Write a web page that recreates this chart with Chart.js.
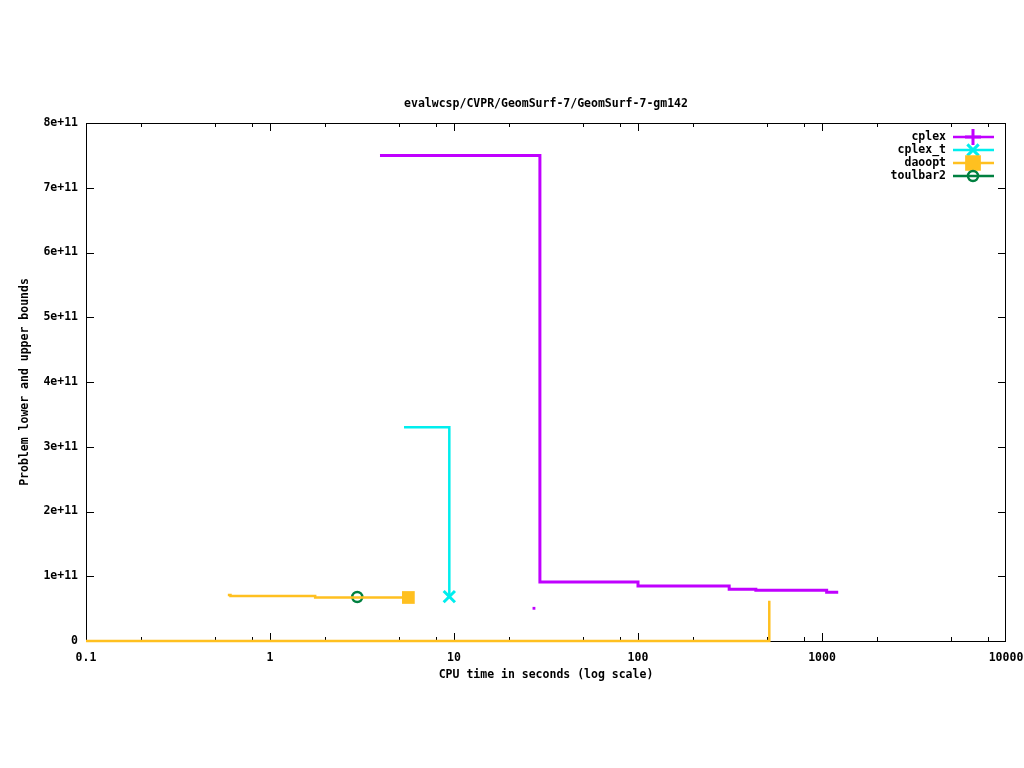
<!DOCTYPE html>
<html>
<head>
<meta charset="utf-8">
<script src="https://cdn.jsdelivr.net/npm/chart.js@4/dist/chart.umd.min.js"></script>
<style>
  html, body { margin: 0; padding: 0; background: #fff; }
  canvas { display: block; }
</style>
</head>
<body>
<canvas id="chart" width="1024" height="768"></canvas>
<script>
// values (x = CPU seconds, y = bound)
const cplexX = [3.96, 29.3, 100, 313, 437, 1060, 1225];
const cplexY = [7.5e11, 9.1e10, 8.5e10, 8.0e10, 7.83e10, 7.52e10, 7.52e10];
const cplexLowX = [27.2];
const cplexLowY = [5.05e10];
const cplexTX = [5.35, 9.43];
const cplexTY = [3.30e11, 6.85e10];
const daooptX = [0.59, 0.61, 1.76, 5.65];
const daooptY = [7.1e10, 6.95e10, 6.72e10, 6.72e10];
const daooptLowX = [0.1, 517];
const daooptLowY = [0, 6.2e10];
const toulbarX = [2.98];
const toulbarY = [6.8e10];

const xTicks = [0.1,0.2,0.5,0.8,1,2,5,8,10,20,50,80,100,200,500,800,1000,2000,5000,8000,10000];
const xMajor = [0.1,1,10,100,1000,10000];
const yTicks = [0,1e11,2e11,3e11,4e11,5e11,6e11,7e11,8e11];

const FONT = "DejaVu Sans Mono";

const legendItems = [
    {label:"cplex", color:"#c000ff", style:"cross", radius:8, fill:false},
    {label:"cplex_t", color:"#00eeee", style:"crossRot", radius:8, fill:false},
    {label:"daoopt", color:"#ffc020", style:"rect", radius:9, fill:true},
    {label:"toulbar2", color:"#008040", style:"circle", radius:5, fill:false}
];

function pts(xs, ys){
    return xs.map((x,i)=>({x:x, y:ys[i]}));
}

function lastOnly(r){
    return ctx => ctx.dataIndex === ctx.dataset.data.length-1 ? r : 0;
}

const framePlugin = {
    id:"frame",
    beforeDatasetsDraw(chart){
        const ctx = chart.ctx;
        const a = chart.chartArea;
        const xs = chart.scales.x;
        const ys = chart.scales.y;
        ctx.save();
        ctx.strokeStyle = "#000";
        ctx.lineWidth = 1;
        ctx.beginPath();
        ctx.rect(a.left+0.5, a.top+0.5, a.right-a.left-1, a.bottom-a.top);
        ctx.stroke();
        ctx.beginPath();
        xTicks.forEach(v=>{
            const px = Math.min(Math.round(xs.getPixelForValue(v)), a.right-1)+0.5;
            const len = xMajor.includes(v) ? 8 : 4;
            ctx.moveTo(px, a.bottom); ctx.lineTo(px, a.bottom-len);
            ctx.moveTo(px, a.top); ctx.lineTo(px, a.top+len);
        });
        yTicks.forEach(v=>{
            const py = Math.round(ys.getPixelForValue(v))+0.5;
            ctx.moveTo(a.left, py); ctx.lineTo(a.left+8, py);
            ctx.moveTo(a.right, py); ctx.lineTo(a.right-8, py);
        });
        ctx.stroke();
        ctx.restore();
    },
    afterDraw(chart){
        const ctx = chart.ctx;
        const a = chart.chartArea;
        ctx.save();
        ctx.fillStyle = "#000";
        ctx.font = "bold 11.5px '" + FONT + "'";
        ctx.textAlign = "center";
        ctx.textBaseline = "middle";
        const cx = (a.left+a.right)/2;
        ctx.fillText("evalwcsp/CVPR/GeomSurf-7/GeomSurf-7-gm142", cx, 104);
        ctx.fillText("CPU time in seconds (log scale)", cx, 675);
        ctx.save();
        ctx.translate(25, (a.top+a.bottom)/2);
        ctx.rotate(-Math.PI/2);
        ctx.fillText("Problem lower and upper bounds", 0, 0);
        ctx.restore();

        // legend
        legendItems.forEach((it,i)=>{
            const y = 137 + i*13;
            ctx.fillStyle = "#000";
            ctx.textAlign = "right";
            ctx.fillText(it.label, 946, y);
            ctx.strokeStyle = it.color;
            ctx.lineWidth = 2.5;
            ctx.beginPath();
            ctx.moveTo(953, y); ctx.lineTo(994, y);
            ctx.stroke();
            ctx.fillStyle = it.fill ? it.color : "rgba(0,0,0,0)";
            ctx.strokeStyle = it.color;
            ctx.lineWidth = it.style === "circle" ? 2.5 : 3;
            Chart.helpers.drawPoint(ctx, {pointStyle:it.style, radius:it.radius, rotation:0, borderWidth:ctx.lineWidth}, 973, y);
        });
        ctx.restore();
    }
};

new Chart(document.getElementById("chart"), {
    type:"line",
    data:{
        datasets:[
            {
                label:"daoopt lower",
                data:pts(daooptLowX, daooptLowY),
                borderColor:"#ffc020",
                borderWidth:2.5,
                stepped:true,
                pointRadius:0,
                clip:false
            },
            {
                label:"cplex",
                data:pts(cplexX, cplexY),
                borderColor:"#c000ff",
                borderWidth:3,
                stepped:true,
                pointRadius:0
            },
            {
                label:"cplex lower",
                data:pts(cplexLowX, cplexLowY),
                borderColor:"#c000ff",
                backgroundColor:"#c000ff",
                showLine:false,
                pointStyle:"rect",
                pointRadius:2,
                pointBorderWidth:0
            },
            {
                label:"cplex_t",
                data:pts(cplexTX, cplexTY),
                borderColor:"#00eeee",
                borderWidth:2.5,
                stepped:true,
                pointStyle:"crossRot",
                pointRadius:lastOnly(8),
                pointBorderWidth:3
            },
            {
                label:"daoopt",
                data:pts(daooptX, daooptY),
                borderColor:"#ffc020",
                backgroundColor:"#ffc020",
                borderWidth:2.5,
                stepped:true,
                pointStyle:"rect",
                pointRadius:lastOnly(9),
                pointBorderWidth:0
            },
            {
                label:"toulbar2",
                data:pts(toulbarX, toulbarY),
                borderColor:"#008040",
                backgroundColor:"rgba(0,0,0,0)",
                showLine:false,
                pointStyle:"circle",
                pointRadius:5,
                pointBorderWidth:2.5
            }
        ]
    },
    options:{
        responsive:false,
        animation:false,
        layout:{padding:{top:123, right:18, left:0, bottom:0}},
        plugins:{
            legend:{display:false},
            title:{display:false},
            tooltip:{enabled:false}
        },
        scales:{
            x:{
                type:"logarithmic",
                min:0.1,
                max:10000,
                grid:{display:false, drawTicks:false},
                border:{display:false},
                afterBuildTicks:s=>{ s.ticks = xTicks.map(v=>({value:v})); },
                afterFit:s=>{ s.height = 127; s.paddingLeft = 0; s.paddingRight = 0; },
                ticks:{
                    autoSkip:false,
                    maxRotation:0,
                    padding:10,
                    color:"#000",
                    font:{family:FONT, size:11.5, weight:"bold"},
                    callback:v=> xMajor.includes(v) ? String(v) : ""
                }
            },
            y:{
                type:"linear",
                min:0,
                max:8e11,
                grid:{display:false, drawTicks:false},
                border:{display:false},
                afterBuildTicks:s=>{ s.ticks = yTicks.map(v=>({value:v})); },
                afterFit:s=>{ s.width = 86; },
                ticks:{
                    padding:8,
                    color:"#000",
                    font:{family:FONT, size:11.5, weight:"bold"},
                    callback:v=> v === 0 ? "0" : (v/1e11) + "e+11"
                }
            }
        }
    },
    plugins:[framePlugin]
});
</script>
</body>
</html>
